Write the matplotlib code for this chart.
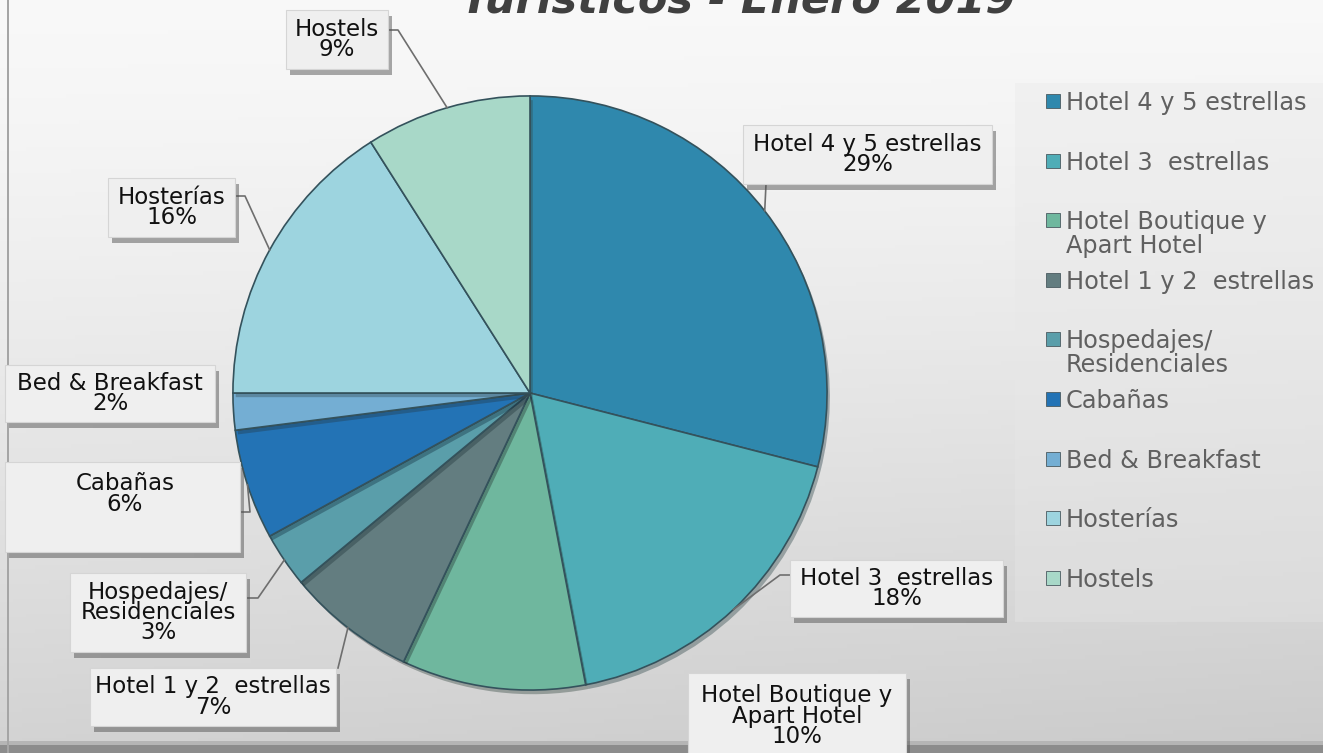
import numpy as np
import matplotlib
matplotlib.use("Agg")
import matplotlib.pyplot as plt
from matplotlib.patches import Rectangle
from matplotlib.lines import Line2D
import matplotlib.patheffects as pe

# Data
categories = ["Hotel 4 y 5 estrellas", "Hotel 3  estrellas", "Hotel Boutique y\nApart Hotel",
              "Hotel 1 y 2  estrellas", "Hospedajes/\nResidenciales", "Cabañas",
              "Bed & Breakfast", "Hosterías", "Hostels"]
shares = [29, 18, 10, 7, 3, 6, 2, 16, 9]
colors = ["#2f88ad", "#4fadb7", "#6fb79e", "#637d80", "#5a9eaa",
          "#2373b5", "#74aed3", "#9dd4df", "#a8d8c8"]
title = "Turísticos - Enero 2019"

W, H = 1323, 753
FONT = "DejaVu Sans"

# label boxes (x0, y0, x1, y1) in pixels, top-left origin
boxes = [(743, 125, 992, 184), (790, 560, 1003, 617), (688, 673, 906, 760),
         (90, 668, 336, 726), (70, 573, 246, 652), (5, 462, 240, 552),
         (5, 365, 215, 422), (108, 178, 235, 237), (286, 10, 388, 69)]
text_center = {2: (797, 716), 5: (125, 494)}
# leader line start points (None = no line)
leaders = [[(766, 184)], [(790, 575), (780, 575)], None,
           [(338, 668)], [(246, 598), (258, 598)], [(240, 512), (250, 512)],
           None, [(235, 196), (245, 196)], [(388, 30), (398, 30)]]


def px(x, y):
    return x, H - y


fig = plt.figure(figsize=(W / 100, H / 100), dpi=100)

# background gradient
bg = fig.add_axes([0, 0, 1, 1], zorder=-10)
yy = np.linspace(0, 1, 200)[:, None]
xx = np.linspace(0, 1, 300)[None, :]
shade = 0.975 - 0.15 * yy ** 1.3 - 0.03 * xx * yy
bg.imshow(np.dstack([shade] * 3), extent=[0, W, 0, H], aspect="auto", origin="upper")
bg.add_patch(Rectangle((1015, H - 622), W - 1015, 539, facecolor="#e8e8e8", edgecolor="none", alpha=0.35))
bg.add_patch(Rectangle((0, 0), W, 8, facecolor="#8c8c8c", edgecolor="none"))
bg.add_patch(Rectangle((0, 8), W, 4, facecolor="#b5b5b5", edgecolor="none"))
bg.add_patch(Rectangle((7, 0), 2, H, facecolor="#a5a5a5", edgecolor="none"))
bg.set_xlim(0, W)
bg.set_ylim(0, H)
bg.axis("off")

# pie
cx, cy, r = 530, 393, 303
ax = fig.add_axes([(cx - r) / W, (H - cy - r) / H, 2 * r / W, 2 * r / H])
wedges, _ = ax.pie(shares, colors=colors, startangle=90, counterclock=False, radius=1,
                   wedgeprops=dict(edgecolor="#34525c", linewidth=1.2))
for w in wedges:
    w.set_path_effects([pe.withSimplePatchShadow(offset=(2, -3), alpha=0.35)])
ax.set_xlim(-1.02, 1.02)
ax.set_ylim(-1.02, 1.02)
ax.set_aspect("equal")
ax.axis("off")

# data labels with boxes and leader lines
for i, (w, cat, val) in enumerate(zip(wedges, categories, shares)):
    x0, y0, x1, y1 = boxes[i]
    box = Rectangle(px(x0, y1), x1 - x0, y1 - y0, transform=None, facecolor="#efefef",
                    edgecolor="#d5d5d5", linewidth=0.8, zorder=5)
    box.set_path_effects([pe.withSimplePatchShadow(offset=(3, -4), shadow_rgbFace="#555555", alpha=0.5)])
    fig.add_artist(box)
    tx, ty = text_center.get(i, ((x0 + x1) / 2, (y0 + y1) / 2))
    fig.text(tx / W, 1 - ty / H, f"{cat}\n{val}%", ha="center", va="center",
             fontsize=16.5, family=FONT, color="#111111", linespacing=0.85, zorder=6)
    if leaders[i] is None:
        continue
    ang = np.deg2rad((w.theta1 + w.theta2) / 2)
    ex, ey = ax.transData.transform((np.cos(ang), np.sin(ang)))
    pts = [px(*p) for p in leaders[i]] + [(ex, ey)]
    xs, ys = zip(*pts)
    fig.add_artist(Line2D(xs, ys, transform=None, color="#6e6e6e", linewidth=1.2, zorder=4))

# legend
for i, (cat, c) in enumerate(zip(categories, colors)):
    y = 101 + 59.6 * i
    fig.add_artist(Rectangle(px(1046, y + 7), 14, 14, transform=None, facecolor=c,
                             edgecolor="#4a5a60", linewidth=0.6))
    for k, line in enumerate(cat.split("\n")):
        fig.text(1066 / W, 1 - (y + 9 + 24 * k) / H, line, ha="left", va="baseline",
                 fontsize=17.3, family=FONT, color="#606060")

# title (top line cut off by the frame)
fig.text(738 / W, 1 - 14 / H, title, ha="center", va="baseline", fontsize=31,
         family=FONT, fontweight="bold", fontstyle="italic", color="#404040")

fig.savefig("out.png", dpi=100)
